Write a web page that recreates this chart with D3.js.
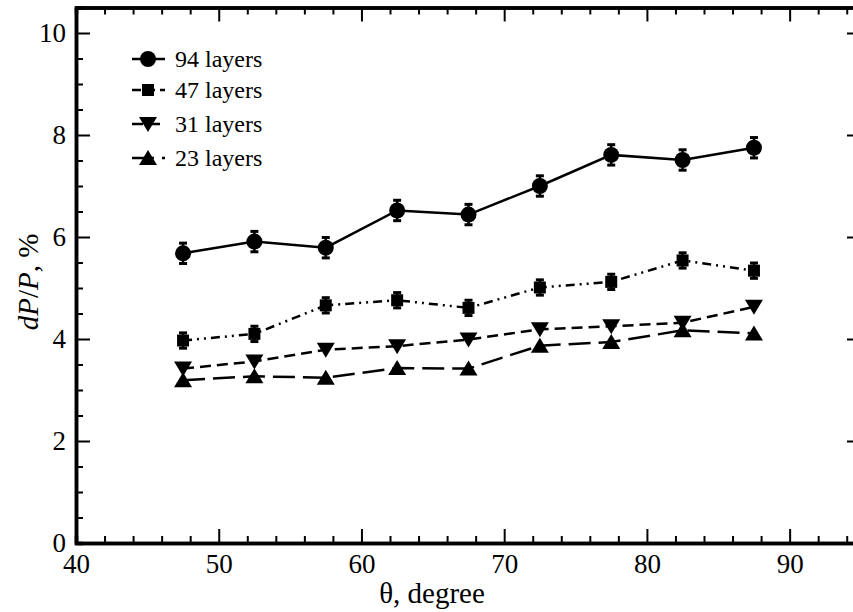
<!DOCTYPE html>
<html>
<head>
<meta charset="utf-8">
<script src="https://cdn.jsdelivr.net/npm/d3@7"></script>
<style>
  body { margin: 0; background: #fff; }
  svg text { font-family: "Liberation Serif", "Times New Roman", Times, "DejaVu Serif", serif; }
</style>
</head>
<body>
<div id="chart"></div>
<script>
// angle of incidence, degree
const theta = [47.5, 52.5, 57.5, 62.5, 67.5, 72.5, 77.5, 82.5, 87.5];

// dP/P, % for each stack
const layers94 = [5.68, 5.91, 5.79, 6.52, 6.44, 7.0, 7.61, 7.51, 7.75];
const layers47 = [3.97, 4.10, 4.66, 4.76, 4.61, 5.01, 5.12, 5.54, 5.34];
const layers31 = [3.42, 3.56, 3.79, 3.86, 3.99, 4.19, 4.25, 4.32, 4.63];
const layers23 = [3.19, 3.27, 3.24, 3.43, 3.42, 3.87, 3.94, 4.17, 4.11];

const err94 = [0.2, 0.2, 0.2, 0.2, 0.2, 0.2, 0.2, 0.2, 0.2];
const err47 = [0.15, 0.15, 0.15, 0.15, 0.15, 0.15, 0.15, 0.15, 0.15];

const seriesNames = ["94 layers", "47 layers", "31 layers", "23 layers"];

const xTicks = [40, 50, 60, 70, 80, 90];
const yTicks = [0, 2, 4, 6, 8, 10];

const FONT = "'Liberation Serif', 'Times New Roman', Times, serif";

const margin = { top: 7.5, right: -8, bottom: 69, left: 76 };
const W = 853, H = 612;
const width = W - margin.left - margin.right;
const height = H - margin.top - margin.bottom;

const svg = d3.select("#chart").append("svg")
    .attr("width", W)
    .attr("height", H)
    .style("display", "block");

const g = svg.append("g")
    .attr("transform", `translate(${margin.left}, ${margin.top})`);

const x = d3.scaleLinear().domain([40, 95]).range([0, width]);
const y = d3.scaleLinear().domain([0, 10.5]).range([height, 0]);

const xMinor = d3.range(40, 96, 2).filter(v => v % 10 !== 0);
const yMinor = d3.range(0, 10.51, 0.5).filter(v => v % 2 !== 0);

function styleAxis(sel) {
    sel.attr("font-family", FONT).attr("font-size", 27);
    sel.select(".domain").attr("stroke", "#000").attr("stroke-width", 3.5);
    sel.selectAll(".tick line").attr("stroke", "#000").attr("stroke-width", 2);
    sel.selectAll(".tick text").attr("fill", "#000").attr("font-family", FONT).attr("font-size", 27);
}

// minor ticks first, then majors with spines
g.append("g").attr("transform", `translate(0, ${height})`)
    .call(d3.axisBottom(x).tickValues(xMinor).tickSize(-7).tickFormat(""))
    .call(styleAxis);
g.append("g")
    .call(d3.axisTop(x).tickValues(xMinor).tickSize(-7).tickFormat(""))
    .call(styleAxis);
g.append("g")
    .call(d3.axisLeft(y).tickValues(yMinor).tickSize(-7).tickFormat(""))
    .call(styleAxis);
g.append("g").attr("transform", `translate(${width}, 0)`)
    .call(d3.axisRight(y).tickValues(yMinor).tickSize(-7).tickFormat(""))
    .call(styleAxis);

g.append("g").attr("transform", `translate(0, ${height})`)
    .call(d3.axisBottom(x).tickValues(xTicks).tickSize(-14).tickSizeOuter(0).tickPadding(11).tickFormat(d3.format("d")))
    .call(styleAxis);
g.append("g")
    .call(d3.axisTop(x).tickValues(xTicks).tickSize(-14).tickSizeOuter(0).tickFormat(""))
    .call(styleAxis);
g.append("g")
    .call(d3.axisLeft(y).tickValues(yTicks).tickSize(-14).tickSizeOuter(0).tickPadding(10).tickFormat(d3.format("d")))
    .call(styleAxis);
g.append("g").attr("transform", `translate(${width}, 0)`)
    .call(d3.axisRight(y).tickValues(yTicks).tickSize(-14).tickSizeOuter(0).tickFormat(""))
    .call(styleAxis);

// axis titles
svg.append("text")
    .attr("x", 432).attr("y", 603)
    .attr("text-anchor", "middle")
    .attr("font-family", FONT)
    .attr("font-size", 29)
    .text("θ, degree");

const yTitle = svg.append("text")
    .attr("transform", "translate(38, 282) rotate(-90)")
    .attr("text-anchor", "middle")
    .attr("font-family", FONT)
    .attr("font-size", 29);
yTitle.append("tspan").attr("font-style", "italic").text("dP");
yTitle.append("tspan").text("/");
yTitle.append("tspan").attr("font-style", "italic").text("P");
yTitle.append("tspan").text(", %");

const series = [
    { name: seriesNames[0], values: layers94, err: err94, symbol: d3.symbolCircle, size: 201, dash: null },
    { name: seriesNames[1], values: layers47, err: err47, symbol: d3.symbolSquare, size: 144, dash: "9,5,2,5,2,5" },
    { name: seriesNames[2], values: layers31, err: null, symbol: "down", size: 0, dash: "11,6" },
    { name: seriesNames[3], values: layers23, err: null, symbol: "up", size: 0, dash: "22,8" }
];

function markerPath(s) {
    if (s.symbol === "up") return "M0,-8L9,7L-9,7Z";
    if (s.symbol === "down") return "M0,8L9,-7L-9,-7Z";
    return d3.symbol().type(s.symbol).size(s.size)();
}

const line = d3.line().x(d => x(d[0])).y(d => y(d[1]));

series.forEach(s => {
    const pts = theta.map((t, i) => [t, s.values[i]]);
    const sg = g.append("g");

    sg.append("path")
        .datum(pts)
        .attr("d", line)
        .attr("fill", "none")
        .attr("stroke", "#000")
        .attr("stroke-width", 2.5)
        .attr("stroke-dasharray", s.dash);

    if (s.err) {
        const eb = sg.selectAll(".err").data(pts).join("g").attr("class", "err");
        eb.append("line")
            .attr("x1", d => x(d[0])).attr("x2", d => x(d[0]))
            .attr("y1", (d, i) => y(d[1] - s.err[i])).attr("y2", (d, i) => y(d[1] + s.err[i]))
            .attr("stroke", "#000").attr("stroke-width", 2.5);
        eb.selectAll(".cap").data((d, i) => [d[1] - s.err[i], d[1] + s.err[i]].map(v => [d[0], v]))
            .join("line")
            .attr("x1", d => x(d[0]) - 4).attr("x2", d => x(d[0]) + 4)
            .attr("y1", d => y(d[1])).attr("y2", d => y(d[1]))
            .attr("stroke", "#000").attr("stroke-width", 3);
    }

    sg.selectAll(".mark").data(pts).join("path")
        .attr("class", "mark")
        .attr("transform", d => `translate(${x(d[0])}, ${y(d[1])})`)
        .attr("d", markerPath(s))
        .attr("fill", "#000");
});

// legend
const legendY = [59, 90, 124, 158];
const legend = svg.append("g");
series.forEach((s, i) => {
    const row = legend.append("g").attr("transform", `translate(148, ${legendY[i]})`);
    row.append("line")
        .attr("x1", -16).attr("x2", 17)
        .attr("stroke", "#000").attr("stroke-width", 2.5)
        .attr("stroke-dasharray", s.dash);
    row.append("path").attr("d", markerPath(s)).attr("fill", "#000");
    row.append("text")
        .attr("x", 27).attr("y", 8)
        .attr("font-family", FONT)
        .attr("font-size", 24)
        .text(s.name);
});
</script>
</body>
</html>
